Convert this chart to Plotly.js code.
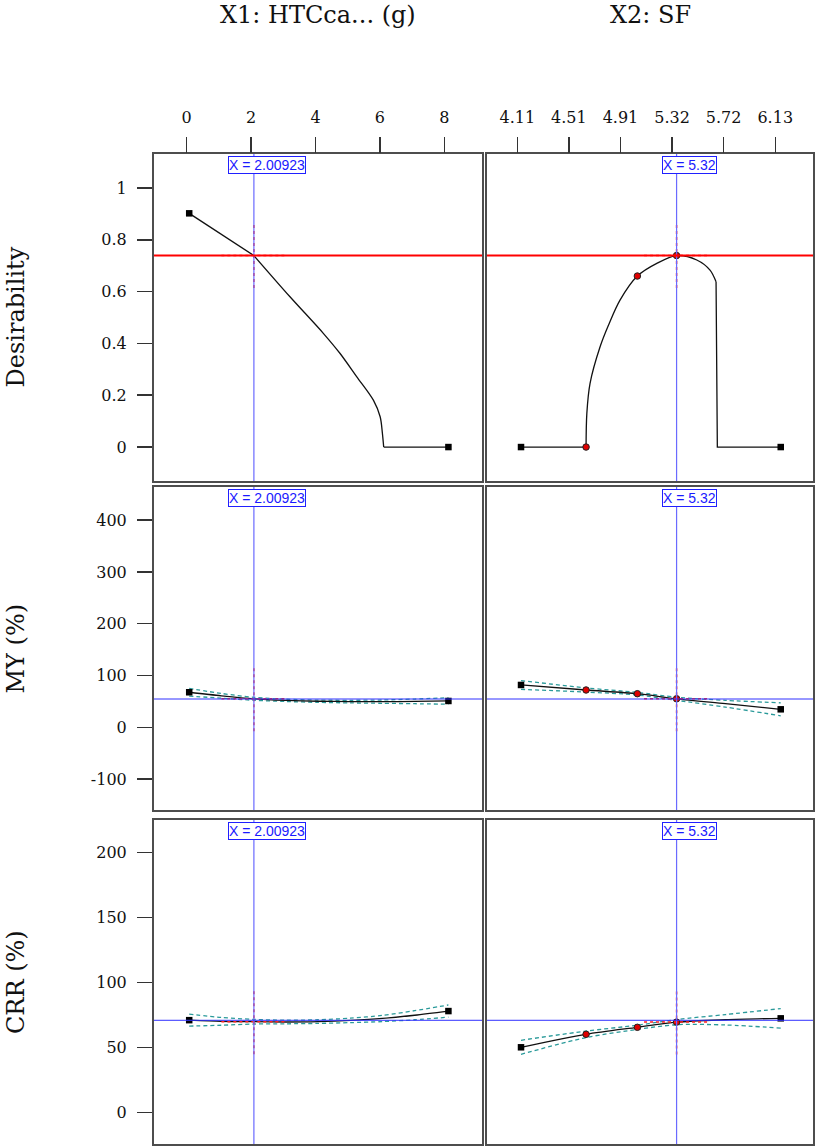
<!DOCTYPE html>
<html><head><meta charset="utf-8">
<script src="https://cdn.plot.ly/plotly-3.0.1.min.js"></script>
<style>html,body{margin:0;padding:0;background:#fff}</style>
</head><body><div id="chart" style="width:827px;height:1147px"></div>
<script>
// ---- factor names / responses ----
const factorTitles = ["X1: HTCca... (g)", "X2: SF"];
const responseTitles = ["Desirability", "MY (%)", "CRR (%)"];

// ---- optimum settings ----
const x1Opt = 2.00923;
const x2Opt = 5.32;
const desirOpt = 0.739;
const myOpt = 54.6;
const crrOpt = 70.9;

// ---- top tick labels ----
const x1TickVals = [0, 2, 4, 6, 8];
const x1TickText = ["0", "2", "4", "6", "8"];
const x2TickVals = [4.11, 4.514, 4.918, 5.322, 5.726, 6.13];
const x2TickText = ["4.11", "4.51", "4.91", "5.32", "5.72", "6.13"];

// ---- y tick labels ----
const desirTicks = [0, 0.2, 0.4, 0.6, 0.8, 1];
const desirTickText = ["0", "0.2", "0.4", "0.6", "0.8", "1"];
const myTicks = [-100, 0, 100, 200, 300, 400];
const myTickText = ["-100", "0", "100", "200", "300", "400"];
const crrTicks = [0, 50, 100, 150, 200];
const crrTickText = ["0", "50", "100", "150", "200"];

// ---- Desirability vs X1 ----
const desX1 = [0, 1.06, 2.00923, 3.13, 4.165, 4.68, 5.2, 5.72, 5.93, 6.0, 6.04, 8.05];
const desY1 = [0.902, 0.816, 0.739, 0.58, 0.439, 0.362, 0.272, 0.181, 0.117, 0.053, 0, 0];
// segments of the curve: [start index, end index, smooth?]
const desSeg1 = [[0, 2, false], [2, 10, true], [10, 11, false]];

// ---- Desirability vs X2 ----
const desX2 = [4.11, 4.616, 4.622, 4.647, 4.725, 4.79, 4.88, 5.015, 5.166, 5.32, 5.477, 5.58, 5.627, 5.637, 6.13];
const desY2 = [0, 0, 0.13, 0.246, 0.387, 0.47, 0.567, 0.66, 0.709, 0.739, 0.722, 0.683, 0.638, 0, 0];
const desSeg2 = [[0, 1, false], [1, 12, true], [12, 14, false]];

// ---- X1 grid (MY, CRR) ----
const x1Grid = [0, 1, 2.00923, 3, 4, 5, 6, 7, 8.05];
const my1 = [67.6, 60.8, 55.0, 52.0, 50.3, 49.6, 49.5, 50.0, 50.8];
const my1Up = [75.1, 65.3, 57.8, 54.2, 52.5, 52.1, 52.7, 54.5, 57.0];
const my1Lo = [60.1, 56.3, 52.2, 49.8, 48.1, 47.1, 46.3, 45.5, 44.6];
const crr1 = [71.0, 70.1, 69.8, 69.6, 69.9, 70.8, 72.3, 74.8, 78.0];
const crr1Up = [75.6, 73.1, 71.6, 71.0, 71.3, 72.5, 74.7, 78.3, 82.7];
const crr1Lo = [66.4, 67.1, 68.0, 68.2, 68.5, 69.1, 69.9, 71.3, 73.3];

// ---- X2 grid (MY, CRR) ----
const x2Grid = [4.11, 4.616, 5.015, 5.32, 5.7, 6.13];
const my2 = [81.7, 72.0, 64.8, 55.0, 45.5, 34.7];
const my2Up = [90.2, 76.0, 67.3, 58.0, 52.0, 47.2];
const my2Lo = [73.2, 68.0, 62.3, 52.0, 39.0, 22.2];
const crr2 = [50.1, 60.1, 65.5, 69.5, 71.3, 72.4];
const crr2Up = [55.5, 62.6, 67.1, 71.5, 75.3, 79.9];
const crr2Lo = [44.7, 57.6, 63.9, 67.5, 67.3, 64.9];

// ---- design points shown on the X2 traces ----
const x2Design = [4.616, 5.015, 5.32];
const desDesign = [0, 0.66, 0.739];
const myDesign = [72.0, 64.8, 55.0];
const crrDesign = [60.1, 65.5, 69.5];

// ---- crosshair half sizes (interval marks) ----
const xHalf = [1.01, 0.253];
const yHalf = [0.1255, 62.7, 25.0];

// ---------- layout helpers ----------
const colX = [[0.18622, 0.58283], [0.58888, 0.98307]];
const rowY = [[0.58064, 0.86574], [0.29381, 0.57541], [0.00262, 0.28509]];
const xRanges = [[-1.093, 9.093], [3.8455, 6.381]];
const yRanges = [[-0.131, 1.131], [-159.7, 463.9], [-24.4, 225.2]];
const yTickSets = [[desirTicks, desirTickText], [myTicks, myTickText], [crrTicks, crrTickText]];
const opts = [x1Opt, x2Opt];
const respOpt = [desirOpt, myOpt, crrOpt];

const SERIF = "DejaVu Serif, serif";
const TEAL = "#2a9a9a";

const panels = [
  {row:0, col:0, x:desX1, y:desY1, seg:desSeg1},
  {row:0, col:1, x:desX2, y:desY2, seg:desSeg2, dx:x2Design, dy:desDesign},
  {row:1, col:0, x:x1Grid, y:my1, up:my1Up, lo:my1Lo},
  {row:1, col:1, x:x2Grid, y:my2, up:my2Up, lo:my2Lo, dx:x2Design, dy:myDesign},
  {row:2, col:0, x:x1Grid, y:crr1, up:crr1Up, lo:crr1Lo},
  {row:2, col:1, x:x2Grid, y:crr2, up:crr2Up, lo:crr2Lo, dx:x2Design, dy:crrDesign}
];

const traces = [];
const layout = {
  width: 827, height: 1147,
  margin: {l:0, r:0, t:0, b:0},
  paper_bgcolor: "#ffffff", plot_bgcolor: "#ffffff",
  showlegend: false,
  shapes: [], annotations: []
};

panels.forEach((p, i) => {
  const n = i + 1;
  const xs = n === 1 ? "" : String(n);
  const xa = "x" + xs, ya = "y" + xs;
  const [tv, tt] = yTickSets[p.row];
  layout["xaxis" + xs] = {
    domain: colX[p.col], anchor: ya, range: xRanges[p.col],
    showline: true, mirror: true, linecolor: "#4d4d4d", linewidth: 2,
    showgrid: false, zeroline: false, ticks: "", showticklabels: false, fixedrange: true
  };
  layout["yaxis" + xs] = {
    domain: rowY[p.row], anchor: xa, range: yRanges[p.row],
    showline: true, mirror: true, linecolor: "#4d4d4d", linewidth: 2,
    showgrid: false, zeroline: false, fixedrange: true,
    ticks: p.col === 0 ? "outside" : "", ticklen: 15, tickwidth: 1.5, tickcolor: "#333",
    showticklabels: p.col === 0,
    tickmode: "array", tickvals: tv, ticktext: tt,
    tickfont: {family: SERIF, size: 16, color: "#111"}, ticklabelstandoff: 7
  };
  // confidence bands
  if (p.up) {
    [p.up, p.lo].forEach(arr => traces.push({
      x: p.x, y: arr, xaxis: xa, yaxis: ya, mode: "lines",
      line: {color: TEAL, width: 1.3, dash: "4px,3px", shape: "spline", smoothing: 0.8},
      hoverinfo: "skip"
    }));
  }
  // prediction curve
  if (p.seg) {
    p.seg.forEach(([a, b, smooth]) => traces.push({
      x: p.x.slice(a, b + 1), y: p.y.slice(a, b + 1), xaxis: xa, yaxis: ya, mode: "lines",
      line: {color: "#111", width: 1.3, shape: smooth ? "spline" : "linear", smoothing: 0.9},
      hoverinfo: "skip"
    }));
  } else {
    traces.push({
      x: p.x, y: p.y, xaxis: xa, yaxis: ya, mode: "lines",
      line: {color: "#111", width: 1.3, shape: "spline", smoothing: 0.8},
      hoverinfo: "skip"
    });
  }
  // endpoint squares
  traces.push({
    x: [p.x[0], p.x[p.x.length - 1]], y: [p.y[0], p.y[p.y.length - 1]],
    xaxis: xa, yaxis: ya, mode: "markers",
    marker: {symbol: "square", size: 6.5, color: "#000"}, hoverinfo: "skip"
  });
  // design points
  if (p.dx) {
    traces.push({
      x: p.dx, y: p.dy, xaxis: xa, yaxis: ya, mode: "markers",
      marker: {symbol: "circle", size: 6.5, color: "#e00000", line: {color: "#222", width: 1}},
      hoverinfo: "skip"
    });
  }
  const xo = opts[p.col], yo = respOpt[p.row];
  const xIdx = p.x.indexOf(xo);
  const yc = p.row === 0 ? yo : (xIdx >= 0 ? p.y[xIdx] : yo);
  // crosshair interval marks (red dotted)
  layout.shapes.push({type: "line", xref: xa, yref: ya, x0: xo, x1: xo,
    y0: yc - yHalf[p.row], y1: yc + yHalf[p.row],
    line: {color: "#ff2020", width: 1.5, dash: "dot"}});
  layout.shapes.push({type: "line", xref: xa, yref: ya, x0: xo - xHalf[p.col], x1: xo + xHalf[p.col],
    y0: yc, y1: yc, line: {color: "#ff2020", width: 1.5, dash: "dot"}});
  // vertical blue line at the factor setting
  layout.shapes.push({type: "line", xref: xa, yref: ya + " domain", x0: xo, x1: xo, y0: 0, y1: 1,
    line: {color: "#6a6aff", width: 1.2}});
  // horizontal line at response
  if (p.row === 0) {
    layout.shapes.push({type: "line", xref: xa + " domain", yref: ya, x0: 0, x1: 1, y0: yo, y1: yo,
      line: {color: "#ff0000", width: 2}});
  } else {
    layout.shapes.push({type: "line", xref: xa + " domain", yref: ya, x0: 0, x1: 1, y0: yo, y1: yo,
      line: {color: "#3030ff", width: 1}});
  }
  // X = label box
  layout.annotations.push({
    xref: xa, yref: ya + " domain", x: xo, y: 1, xanchor: "center", yanchor: "top",
    xshift: 13, yshift: -2, showarrow: false,
    text: "X = " + xo, font: {family: "Liberation Sans, Arial, sans-serif", size: 14, color: "#1a1aff"},
    bgcolor: "#ffffff", bordercolor: "#2020ff", borderwidth: 1, borderpad: 0
  });
});

// top tick axes (overlay on the top row)
layout.xaxis7 = {
  overlaying: "x", anchor: "y", side: "top", range: [-1.016, 9.171],
  tickmode: "array", tickvals: x1TickVals, ticktext: x1TickText,
  ticks: "outside", ticklen: 16, tickwidth: 1.5, tickcolor: "#333",
  showline: false, showgrid: false, zeroline: false, fixedrange: true,
  tickfont: {family: SERIF, size: 16, color: "#111"}, ticklabelstandoff: 8
};
layout.xaxis8 = {
  overlaying: "x2", anchor: "y2", side: "top", range: [3.8727, 6.4256],
  tickmode: "array", tickvals: x2TickVals, ticktext: x2TickText,
  ticks: "outside", ticklen: 16, tickwidth: 1.5, tickcolor: "#333",
  showline: false, showgrid: false, zeroline: false, fixedrange: true,
  tickfont: {family: SERIF, size: 16, color: "#111"}, ticklabelstandoff: 8
};
traces.push({x: [x1TickVals[0]], y: [null], xaxis: "x7", yaxis: "y", mode: "markers", hoverinfo: "skip"});
traces.push({x: [x2TickVals[0]], y: [null], xaxis: "x8", yaxis: "y2", mode: "markers", hoverinfo: "skip"});

// column titles
[0, 1].forEach(c => {
  layout.annotations.push({
    xref: "paper", yref: "paper", x: (colX[c][0] + colX[c][1]) / 2, y: 1 - 15 / 1147,
    xanchor: "center", yanchor: "middle", showarrow: false,
    text: factorTitles[c], font: {family: SERIF, size: 24, color: "#111"}
  });
});
// row titles
[0, 1, 2].forEach(r => {
  layout.annotations.push({
    xref: "paper", yref: "paper", x: 16 / 827, y: (rowY[r][0] + rowY[r][1]) / 2,
    xanchor: "center", yanchor: "middle", textangle: -90, showarrow: false,
    text: responseTitles[r], font: {family: SERIF, size: 24, color: "#111"}
  });
});

Plotly.newPlot("chart", traces, layout, {staticPlot: true, displayModeBar: false});
</script></body></html>
